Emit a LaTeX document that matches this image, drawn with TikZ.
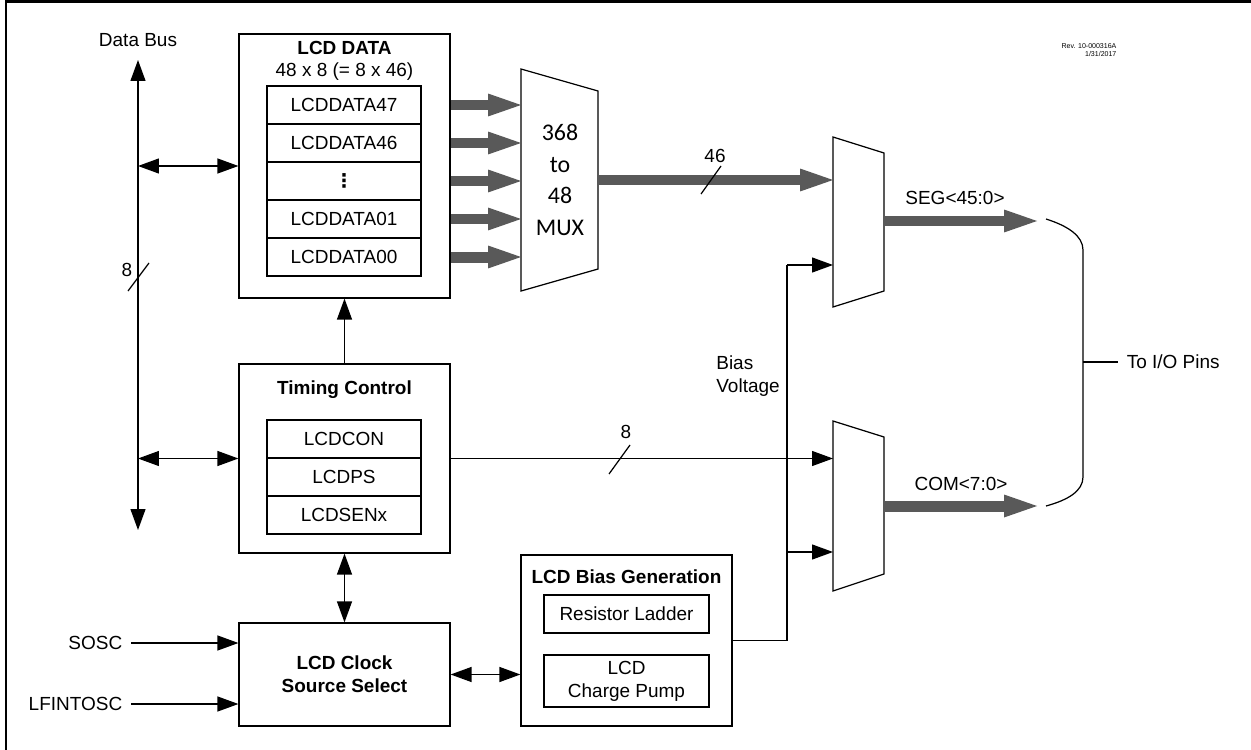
\documentclass[tikz,border=0pt]{standalone}
\usepackage{fontspec}
\setmainfont{Liberation Sans}
\newfontfamily\muxfont{Carlito}
\newfontfamily\dotfont{DejaVu Sans}
\usetikzlibrary{arrows.meta,calc,positioning}
\definecolor{busgray}{RGB}{89,89,89}

\begin{document}
\begin{tikzpicture}[x=0.02cm, y=-0.02cm, line width=0.7pt, font=\fontsize{10.8}{13}\selectfont,
  blk/.style={draw,rectangle,inner sep=0pt},
  reg/.style={draw,rectangle,minimum width=3.08cm,minimum height=0.76cm,inner sep=0pt},
  ttl/.style={font=\fontsize{10.8}{13}\selectfont\bfseries,align=center},
  lbl/.style={inner sep=1pt,align=left},
  sig/.style={inner sep=1pt,outer xsep=4pt},
  arr/.style={-{Triangle[length=0.42cm,width=0.3cm]}},
  dbl/.style={{Triangle[length=0.42cm,width=0.3cm]}-{Triangle[length=0.42cm,width=0.3cm]}},
  busarrow/.style={busgray,line width=0.22cm,-{Triangle[length=0.66cm,width=0.46cm,line width=0pt]}}]

 \useasboundingbox (0,0) rectangle (1251,750);
 \draw[line width=1.4pt] (6,750) -- (6,1.5) -- (1251,1.5);

 % blocks
 \node[blk,minimum width=4.22cm,minimum height=5.28cm] (data) at (344.5,166) {};
 \node[blk,minimum width=4.22cm,minimum height=3.78cm] (timing) at (344.5,458.5) {};
 \node[blk,minimum width=4.22cm,minimum height=2.06cm] (clock) at (344.5,674.5) {};
 \node[blk,minimum width=4.22cm,minimum height=3.42cm] (bias) at (626.5,640.5) {};

 \node[ttl] (datattl) at (344.5,48) {LCD DATA};
 \node[lbl] (datasize) at (344.5,72) {48 x 8 (= 8 x 46)};
 \foreach \t [count=\i] in {LCDDATA47,LCDDATA46,{\dotfont\bfseries ⋮},LCDDATA01,LCDDATA00}
   \node[reg] (r\i) at (344,67+38*\i) {\t};

 \node[ttl] (timingttl) at (344.5,390) {Timing Control};
 \foreach \t [count=\i] in {LCDCON,LCDPS,LCDSENx}
   \node[reg] (t\i) at (344,401+38*\i) {\t};

 \node[ttl] (clockttl) at (clock) {LCD Clock\\Source Select};

 \node[ttl] (biasttl) at (626.5,577) {LCD Bias Generation};
 \node[blk,minimum width=3.3cm,minimum height=0.76cm] (ladder) at (626.5,614) {Resistor Ladder};
 \node[blk,minimum width=3.3cm,minimum height=1.04cm,align=center] (pump) at (626.5,681) {LCD\\Charge Pump};

 % muxes
 \draw (521,69) -- (598,91) -- (598,269) -- (521,291) -- cycle;
 \node[align=center,font=\muxfont\fontsize{13.6}{17.9}\selectfont] (muxtxt) at (560,180) {368\\to\\48\\MUX};
 \draw (833,137) -- (884,153) -- (884,291) -- (833,307) -- cycle;
 \draw (833,421) -- (884,437) -- (884,574) -- (833,591) -- cycle;

 \coordinate (muxin) at (521,0);
 \coordinate (muxout) at (598,180);
 \coordinate (segin) at (833,180);
 \coordinate (segbias) at (833,265);
 \coordinate (segout) at (884,221);
 \coordinate (segend) at (1037,221);
 \coordinate (comsel) at (833,458.5);
 \coordinate (combias) at (833,552);
 \coordinate (comout) at (884,506);
 \coordinate (comend) at (1037,506);
 \coordinate (bv) at (787,265);
 \coordinate (bustop) at (138,60);
 \coordinate (busbot) at (138,530);
 \coordinate (pin) at (1083,362);

 % data bus
 \node[lbl] (busname) at (138,40) {Data Bus};
 \draw[dbl] (busbot) -- (bustop);
 \draw[dbl] (data.west -| bustop) -- (data.west);
 \draw[dbl] (timing.west -| bustop) -- (timing.west);
 \draw (128,291) -- (149,263);
 \node[lbl] (buswidth) at (127,270) {8};

 \foreach \i in {1,...,5}
   \draw[busarrow] (r\i -| data.east) -- (r\i -| muxin);

 \draw[arr] (timing.north) -- (data.south);
 \draw[dbl] (timing.south) -- (clock.north);
 \draw[dbl] (clock.east) -- (clock.east -| bias.west);

 \node[sig,anchor=east] (sosc) at (131,643) {SOSC};
 \node[sig,anchor=east] (lfintosc) at (131,704) {LFINTOSC};
 \draw[arr] (sosc.east) -- (sosc.east -| clock.west);
 \draw[arr] (lfintosc.east) -- (lfintosc.east -| clock.west);

 % bias voltage and common select
 \draw (bias.east) -| (bv);
 \draw[arr] (bv) -- (segbias);
 \draw[arr] (bv |- combias) -- (combias);
 \node[lbl,anchor=west] (biasv) at (714,376) {Bias\\Voltage};
 \draw[arr] (timing.east) -- (comsel);
 \draw (609,474) -- (630,445);
 \node[lbl] (comwidth) at (626,432) {8};

 \draw[busarrow] (muxout) -- (segin);
 \draw (701,194) -- (721,166);
 \node[lbl] (segwidth) at (715,156) {46};

 \draw[busarrow] (segout) -- (segend);
 \draw[busarrow] (comout) -- (comend);
 \node[lbl] (seglbl) at (955,198) {SEG<45:0>};
 \node[lbl] (comlbl) at (961,484) {COM<7:0>};

 \draw (1046,219) .. controls (1068,226) and (1083,236) .. (1083,250) -- (1083,477)
   .. controls (1083,491) and (1068,500) .. (1046,506);
 \node[sig,anchor=west] (iopins) at (1118,362) {To I/O Pins};
 \draw (pin) -- (iopins.west);

 \node[anchor=east,align=right,inner sep=0pt,font=\fontsize{4}{4.8}\selectfont] (rev) at (1117,50) {Rev. 10-000316A\\1/31/2017};
\end{tikzpicture}
\end{document}
